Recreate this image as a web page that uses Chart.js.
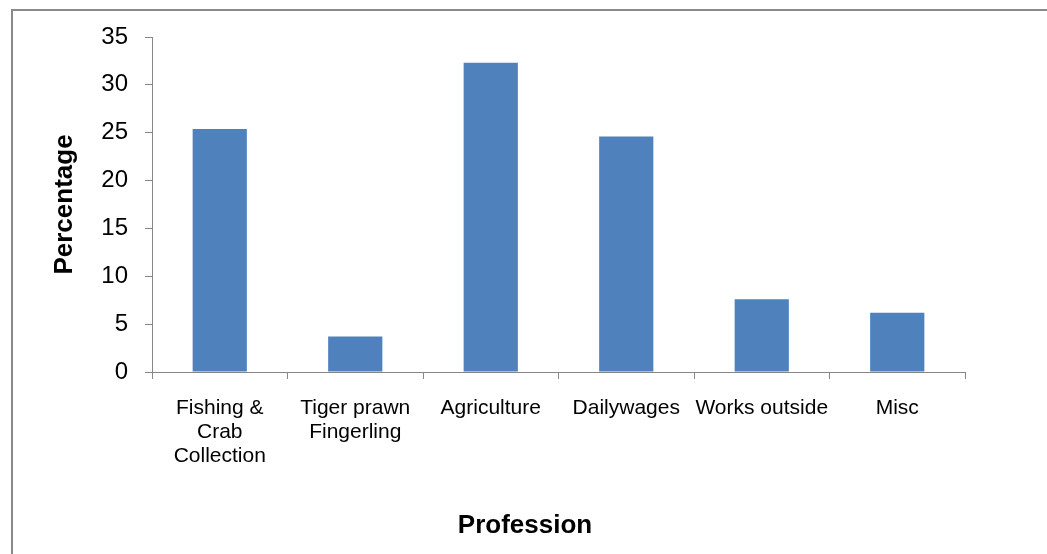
<!DOCTYPE html>
<html>
<head>
<meta charset="utf-8">
<script src="https://cdn.jsdelivr.net/npm/chart.js@4/dist/chart.umd.min.js"></script>
<style>
  html, body { margin: 0; padding: 0; background: #ffffff; }
  #wrap { width: 1047px; height: 554px; position: relative; }
</style>
</head>
<body>
<div id="wrap"><canvas id="c" width="1047" height="554"></canvas></div>
<script>
// Professions and their share of respondents (%)
const categories = [
  ["Fishing &", "Crab", "Collection"],
  ["Tiger prawn", "Fingerling"],
  "Agriculture",
  "Dailywages",
  "Works outside",
  "Misc"
];
const percentages = [25.4, 3.7, 32.3, 24.6, 7.6, 6.2];
const yTicks = [0, 5, 10, 15, 20, 25, 30, 35];

const axisGray = '#868686';
const fontFamily = '"Liberation Sans", Arial, Helvetica, sans-serif';

// Outer frame of the chart object
const framePlugin = {
  id: 'frame',
  beforeDraw(chart) {
    const ctx = chart.ctx;
    ctx.save();
    ctx.strokeStyle = '#8a8a8a';
    ctx.lineWidth = 2;
    ctx.strokeRect(12, 10, 2000, 2000);
    ctx.restore();
  }
};

new Chart(document.getElementById('c'), {
  type: 'bar',
  data: {
    labels: categories,
    datasets: [{
      data: percentages,
      backgroundColor: '#4F81BD',
      borderWidth: 0,
      categoryPercentage: 1.0,
      barPercentage: 0.4
    }]
  },
  options: {
    responsive: false,
    animation: false,
    devicePixelRatio: 1,
    layout: { padding: { top: 37, right: 0, left: 3, bottom: 0 } },
    plugins: {
      legend: { display: false },
      tooltip: { enabled: false },
      // Axis caption under the category labels, centred on the whole frame
      title: {
        display: true,
        position: 'bottom',
        text: 'Profession',
        color: '#000000',
        padding: { top: 0, bottom: 12.4 },
        font: { family: fontFamily, size: 26, weight: 'bold', lineHeight: 1.2 }
      }
    },
    scales: {
      x: {
        grid: {
          offset: true,
          drawOnChartArea: false,
          drawTicks: true,
          tickLength: 7,
          color: axisGray,
          tickColor: axisGray
        },
        border: { color: axisGray, width: 1 },
        ticks: {
          color: '#000000',
          padding: 17,
          maxRotation: 0,
          minRotation: 0,
          autoSkip: false,
          font: { family: fontFamily, size: 21, lineHeight: 1.143 }
        },
        afterFit(scale) { scale.height = 138.4; }
      },
      y: {
        min: 0,
        max: 35,
        afterBuildTicks(scale) { scale.ticks = yTicks.map(v => ({ value: v })); },
        grid: {
          drawOnChartArea: false,
          drawTicks: true,
          tickLength: 7,
          color: axisGray,
          tickColor: axisGray
        },
        border: { color: axisGray, width: 1 },
        ticks: {
          color: '#000000',
          padding: 17,
          font: { family: fontFamily, size: 24 }
        },
        title: {
          display: true,
          text: 'Percentage',
          color: '#000000',
          padding: { top: 46, bottom: 0 },
          font: { family: fontFamily, size: 26, weight: 'bold', lineHeight: 1.2 }
        },
        afterFit(scale) { scale.width = 149; }
      },
      // Empty right-hand margin of the plot
      yRight: {
        position: 'right',
        display: true,
        grid: { display: false },
        border: { display: false },
        ticks: { display: false },
        afterFit(scale) { scale.width = 82; }
      }
    }
  },
  plugins: [framePlugin]
});
</script>
</body>
</html>
